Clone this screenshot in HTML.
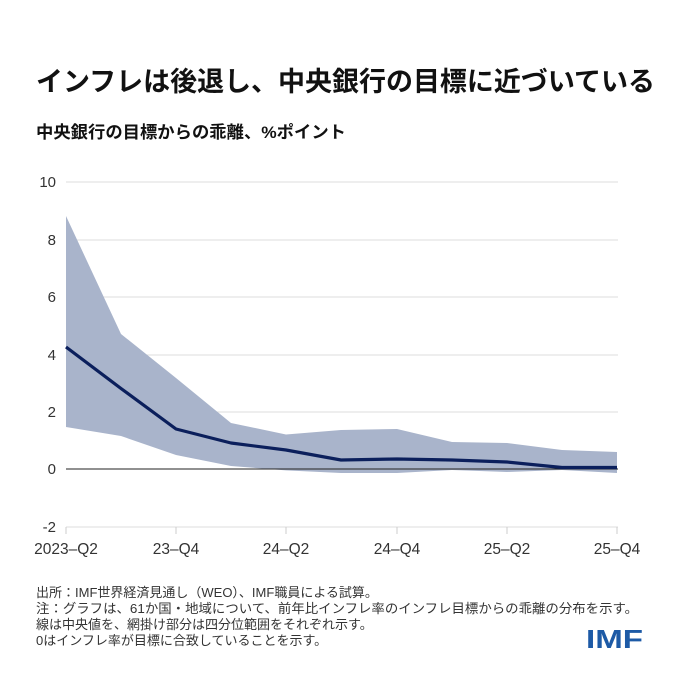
<!DOCTYPE html>
<html><head><meta charset="utf-8"><style>
body{margin:0;background:#fff;width:675px;height:675px;overflow:hidden;font-family:"Liberation Sans","Noto Sans CJK JP",sans-serif;}
</style></head><body>
<svg width="675" height="675" xmlns="http://www.w3.org/2000/svg" font-family="Liberation Sans, Noto Sans CJK JP, sans-serif">
<text x="36" y="91" font-size="27" font-weight="bold" fill="#111" textLength="619" lengthAdjust="spacingAndGlyphs">インフレは後退し、中央銀行の目標に近づいている</text>
<text x="36" y="138" font-size="17" font-weight="bold" fill="#111" textLength="310" lengthAdjust="spacingAndGlyphs">中央銀行の目標からの乖離、%ポイント</text>
<g stroke="#ddd" stroke-width="1">
<line x1="66" x2="618" y1="182" y2="182"/><line x1="66" x2="618" y1="240" y2="240"/>
<line x1="66" x2="618" y1="297" y2="297"/><line x1="66" x2="618" y1="355" y2="355"/>
<line x1="66" x2="618" y1="412" y2="412"/><line x1="66" x2="618" y1="527" y2="527"/>
</g>
<g stroke="#ccc"><line x1="66" x2="66" y1="527" y2="534"/><line x1="176" x2="176" y1="527" y2="534"/><line x1="286" x2="286" y1="527" y2="534"/><line x1="397" x2="397" y1="527" y2="534"/><line x1="507" x2="507" y1="527" y2="534"/><line x1="617" x2="617" y1="527" y2="534"/></g>
<polygon fill="#a9b4cb" points="66,216 121,334 176,378 231,423 286,434.5 341,430 397,429 452,442 507,443 562,450 617,452 617,473 562,470 507,472 452,470 397,473 341,473 286,470.4 231,466 176,455 121,436 66,427"/>
<line x1="66" x2="618" y1="469" y2="469" stroke="#222" stroke-width="1"/>
<polyline fill="none" stroke="#0b1f5c" stroke-width="3.2" stroke-linejoin="round" points="66,347 121,388.5 176,429 231,443 286,450 341,460 397,459 452,460 507,462 562,467.5 617,467.5"/>
<g font-size="15" fill="#333" text-anchor="end">
<text x="56" y="187">10</text><text x="56" y="245">8</text><text x="56" y="302">6</text><text x="56" y="360">4</text><text x="56" y="417">2</text><text x="56" y="474">0</text><text x="56" y="532">-2</text>
</g>
<g font-size="15.5" fill="#333" text-anchor="middle">
<text x="66" y="554">2023–Q2</text><text x="176" y="554">23–Q4</text><text x="286" y="554">24–Q2</text><text x="397" y="554">24–Q4</text><text x="507" y="554">25–Q2</text><text x="617" y="554">25–Q4</text>
</g>
<g font-size="13" fill="#333">
<text x="36" y="597">出所：IMF世界経済見通し（WEO）、IMF職員による試算。</text>
<text x="36" y="613" textLength="602" lengthAdjust="spacingAndGlyphs">注：グラフは、61か国・地域について、前年比インフレ率のインフレ目標からの乖離の分布を示す。</text>
<text x="36" y="629">線は中央値を、網掛け部分は四分位範囲をそれぞれ示す。</text>
<text x="36" y="645">0はインフレ率が目標に合致していることを示す。</text>
</g>
<text x="586" y="648" font-size="26" font-weight="bold" fill="#1d5aa6" textLength="57" lengthAdjust="spacingAndGlyphs">IMF</text>
</svg>
</body></html>
